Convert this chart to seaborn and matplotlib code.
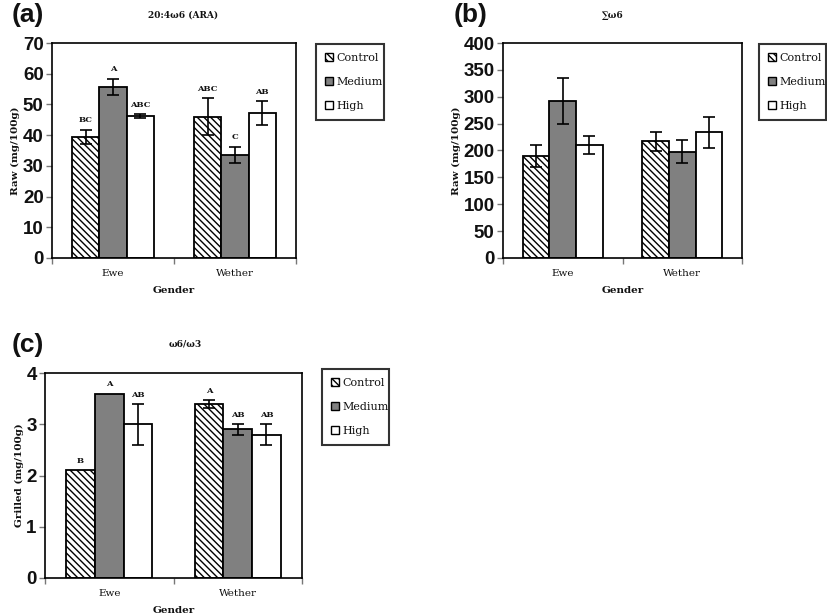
import numpy as np
import pandas as pd
import matplotlib
matplotlib.use("Agg")
import matplotlib.pyplot as plt
from matplotlib.patches import Patch
import seaborn as sns

genders = ["Ewe", "Wether"]
treatments = ["Control", "Medium", "High"]

# values per treatment, [Ewe, Wether]
a_vals = {"Control": [39.5, 46.0], "Medium": [55.7, 33.5], "High": [46.2, 47.2]}
a_err = {"Control": [2.3, 6.0], "Medium": [2.7, 2.7], "High": [0.6, 3.8]}
a_letters = {"Control": ["BC", "ABC"], "Medium": ["A", "C"], "High": ["ABC", "AB"]}

b_vals = {"Control": [190, 217], "Medium": [292, 198], "High": [210, 234]}
b_err = {"Control": [21, 18], "Medium": [43, 21], "High": [17, 29]}

c_vals = {"Control": [2.1, 3.4], "Medium": [3.6, 2.9], "High": [3.0, 2.8]}
c_err = {"Control": [0.0, 0.08], "Medium": [0.0, 0.1], "High": [0.4, 0.2]}
c_letters = {"Control": ["B", "A"], "Medium": ["A", "AB"], "High": ["AB", "AB"]}

panel_titles = ["20:4\u03c96 (ARA)", "\u2211\u03c96", "\u03c96/\u03c93"]
ylabels = ["Raw (mg/100g)", "Raw (mg/100g)", "Grilled (mg/100g)"]
yticks = [np.arange(0, 71, 10), np.arange(0, 401, 50), np.arange(0, 5, 1)]

sns.set_theme(style="white")
plt.rcParams["font.family"] = ["DejaVu Sans"]
plt.rcParams["hatch.linewidth"] = 1.0
plt.rcParams["text.color"] = "#111111"
plt.rcParams["axes.labelcolor"] = "#111111"
plt.rcParams["xtick.labelcolor"] = "#111111"
plt.rcParams["ytick.labelcolor"] = "#111111"

W, H = 827, 616
fig = plt.figure(figsize=(W / 100, H / 100), dpi=100)
fig.patch.set_facecolor("white")

def fr(x, y):
    return x / W, 1 - y / H

def add_ax(l, t, r, b):
    return fig.add_axes([l / W, 1 - b / H, (r - l) / W, (b - t) / H])

colors = {"Control": "white", "Medium": "#808080", "High": "white"}
hatches = {"Control": "\\\\\\\\\\", "Medium": "", "High": ""}
SERIF = "DejaVu Serif"

def make_df(vals):
    rows = []
    for t in treatments:
        for g, v in zip(genders, vals[t]):
            rows.append({"Gender": g, "Treatment": t, "Value": v})
    return pd.DataFrame(rows)

def draw(ax, vals, errs, letters, ticks, ylabel):
    df = make_df(vals)
    sns.barplot(data=df, x="Gender", y="Value", hue="Treatment",
                order=genders, hue_order=treatments, palette=colors,
                width=0.67, errorbar=None, edgecolor="black", linewidth=1.3,
                ax=ax, legend=False, saturation=1)
    ymax = ticks[-1]
    for t, cont in zip(treatments, ax.containers):
        for i, bar in enumerate(cont):
            bar.set_hatch(hatches[t])
            cx = bar.get_x() + bar.get_width() / 2
            h = bar.get_height()
            e = errs[t][i]
            if e > 0:
                ax.errorbar(cx, h, yerr=e, fmt="none", ecolor="black",
                            elinewidth=1.2, capsize=4, capthick=1.2, zorder=5)
            if letters is not None:
                ax.text(cx, h + e + ymax * 0.025, letters[t][i], ha="center",
                        va="bottom", fontsize=6, fontweight="bold",
                        family=SERIF)
    ax.set_xlim(-0.5, 1.5)
    ax.set_ylim(0, ymax)
    ax.set_yticks(ticks)
    ax.set_yticklabels([str(v) for v in ticks], fontsize=13.5,
                       fontweight="bold", family="Liberation Sans")
    ax.set_xticks([0, 1])
    ax.set_xticklabels(genders, fontsize=7.5, family=SERIF)
    ax.set_xticks([-0.5, 0.5, 1.5], minor=True)
    ax.tick_params(axis="x", which="major", length=0, pad=8)
    ax.tick_params(axis="x", which="minor", length=4, width=1, color="#777777",
                   direction="out", bottom=True)
    ax.tick_params(axis="y", length=4, width=1, color="#777777",
                   direction="out", left=True, pad=2)
    ax.set_xlabel("Gender", fontsize=7.5, fontweight="bold", family=SERIF,
                  labelpad=6)
    ax.set_ylabel(ylabel, fontsize=7.5, fontweight="bold", family=SERIF,
                  labelpad=2)
    for s in ax.spines.values():
        s.set_color("black")
        s.set_linewidth(1.2)
        s.set_visible(True)
    ax.grid(False)

def legend(l, t, r, b):
    handles = [Patch(facecolor=colors[tr], edgecolor="black", hatch=hatches[tr],
                     linewidth=1.0) for tr in treatments]
    leg = fig.legend(handles, treatments, loc="upper left",
                     bbox_to_anchor=(l / W, 1 - b / H, (r - l) / W, (b - t) / H),
                     mode="expand", frameon=True, fancybox=False,
                     edgecolor="black", handlelength=0.7,
                     handleheight=0.7, handletextpad=0.3, labelspacing=1.25,
                     borderpad=0.8, borderaxespad=0,
                     prop={"family": SERIF, "size": 8})
    leg.get_frame().set_linewidth(1.5)

ax_a = add_ax(52, 43, 296, 258)
draw(ax_a, a_vals, a_err, a_letters, yticks[0], ylabels[0])
legend(316, 44, 384, 120)

ax_b = add_ax(503, 43, 742, 258)
draw(ax_b, b_vals, b_err, None, yticks[1], ylabels[1])
legend(759, 44, 826, 120)

ax_c = add_ax(45, 373, 302, 578)
draw(ax_c, c_vals, c_err, c_letters, yticks[2], ylabels[2])
legend(322, 369, 389, 446)

# titles
for (x, y), t in zip([(183, 15), (613, 15), (185, 344)], panel_titles):
    fig.text(*fr(x, y), t, ha="center", va="center", fontsize=6.5,
             fontweight="bold", family=SERIF)

# panel labels
for (x, y), t in zip([(12, 15), (454, 15), (12, 345)], ["(a)", "(b)", "(c)"]):
    fig.text(*fr(x, y), t, ha="left", va="center", fontsize=19,
             fontweight="bold", family="Liberation Sans")

fig.savefig("out.png", dpi=100)
